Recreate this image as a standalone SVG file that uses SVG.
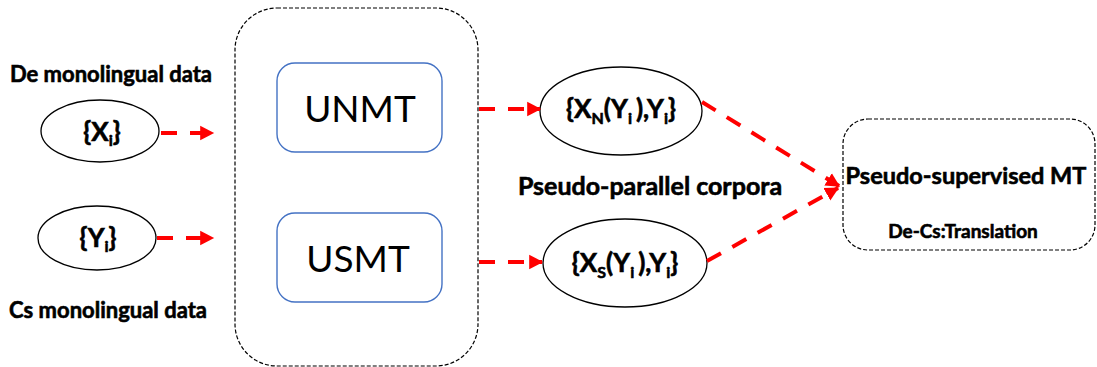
<svg xmlns="http://www.w3.org/2000/svg" width="1097" height="367" viewBox="0 0 1097 367">
<defs>
<marker id="ah" markerWidth="4" markerHeight="4" refX="3.2" refY="2" orient="auto" markerUnits="strokeWidth">
<path d="M0,0.2 L3.5,2 L0,3.8 Z" fill="#FF0000"/>
</marker>
</defs>
<style>
.lbl{font-family:Lato,"Liberation Sans",sans-serif;font-weight:bold;fill:#000;stroke:#000;stroke-width:0.6}
.big{font-family:Lato,"Liberation Sans",sans-serif;font-weight:normal;fill:#000}
.ell{fill:#fff;stroke:#000;stroke-width:1.3}
.dash{fill:none;stroke:#000;stroke-width:1.2;stroke-dasharray:4,2}
.model{fill:#fff;stroke:#4472C4;stroke-width:1.4}
.arr{fill:none;stroke:#FF0000;stroke-width:4;stroke-dasharray:16,13;marker-end:url(#ah)}
</style>
<rect width="1097" height="367" fill="#fff"/>

<g id="label-de"><text class="lbl" x="111" y="82" font-size="22" text-anchor="middle">De monolingual data</text></g>
<g id="label-cs"><text class="lbl" x="108" y="318" font-size="22" text-anchor="middle">Cs monolingual data</text></g>

<g id="xi"><ellipse class="ell" cx="100" cy="131" rx="59" ry="31"/>
<text class="lbl" x="102" y="141" font-size="26" text-anchor="middle">{X<tspan font-size="16" dy="5">i</tspan><tspan dy="-5">}</tspan></text></g>

<g id="yi"><ellipse class="ell" cx="97" cy="238" rx="59" ry="32"/>
<text class="lbl" x="98" y="247" font-size="26" text-anchor="middle">{Y<tspan font-size="16" dy="5">i</tspan><tspan dy="-5">}</tspan></text></g>

<g id="unsup"><rect class="dash" x="235" y="8" width="243" height="358" rx="42"/></g>

<g id="unmt"><rect class="model" x="277" y="63" width="165" height="89" rx="18"/>
<text class="big" x="360" y="122" font-size="37" text-anchor="middle">UNMT</text></g>

<g id="usmt"><rect class="model" x="277" y="213" width="165" height="89" rx="18"/>
<text class="big" x="358" y="272" font-size="37" text-anchor="middle">USMT</text></g>

<g id="xn"><ellipse class="ell" cx="621" cy="111" rx="81" ry="44"/>
<text class="lbl" x="621" y="118" font-size="26" text-anchor="middle">{X<tspan font-size="16" dy="6">N</tspan><tspan dy="-6">(Y</tspan><tspan font-size="16" dy="6">i </tspan><tspan dy="-6">),Y</tspan><tspan font-size="16" dy="6">i</tspan><tspan dy="-6">}</tspan></text></g>

<g id="xs"><ellipse class="ell" cx="625" cy="263" rx="82" ry="44"/>
<text class="lbl" x="625" y="272" font-size="26" text-anchor="middle">{X<tspan font-size="16" dy="6">S</tspan><tspan dy="-6">(Y</tspan><tspan font-size="16" dy="6">i </tspan><tspan dy="-6">),Y</tspan><tspan font-size="16" dy="6">i</tspan><tspan dy="-6">}</tspan></text></g>

<g id="corpora"><text class="lbl" x="650" y="195" font-size="25" text-anchor="middle">Pseudo-parallel corpora</text></g>

<g id="psmt"><rect class="dash" x="843" y="119" width="252" height="131" rx="25"/>
<text class="lbl" x="966" y="184" font-size="23.5" text-anchor="middle">Pseudo-supervised MT</text>
<text class="lbl" x="963" y="238" font-size="19" text-anchor="middle">De-Cs:Translation</text></g>

<g id="connectors">
<line class="arr" x1="161" y1="133" x2="213" y2="133"/>
<line class="arr" x1="157" y1="238" x2="213" y2="238"/>
<line class="arr" x1="479" y1="109" x2="540" y2="109"/>
<line class="arr" x1="479" y1="262" x2="542" y2="262"/>
<line class="arr" x1="702" y1="102" x2="839" y2="186"/>
<line class="arr" x1="707" y1="261" x2="838" y2="188"/>
</g>
</svg>
